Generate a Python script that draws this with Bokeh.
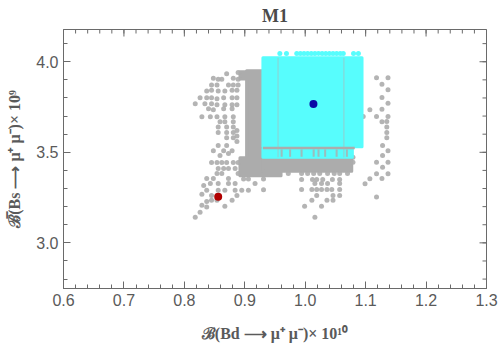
import math
from bokeh.plotting import figure
from bokeh.models import Range1d, FixedTicker, LinearAxis, PrintfTickFormatter
from bokeh.embed import file_html
from bokeh.resources import INLINE

# ---------------- data ----------------
x_major = [0.6, 0.7, 0.8, 0.9, 1.0, 1.1, 1.2, 1.3]
x_minor = [round(0.6 + 0.02 * i, 2) for i in range(36)]
y_major = [3.0, 3.5, 4.0]
y_minor = [round(2.8 + 0.1 * i, 1) for i in range(14)]

# scattered grey points (upper left)
gray_ul_x = [0.870, 0.889, 0.848, 0.856, 0.862, 0.881, 0.889, 0.845, 0.854, 0.873, 0.881, 0.889,
             0.837, 0.845, 0.856, 0.867, 0.879, 0.887, 0.826, 0.837, 0.845, 0.854, 0.865, 0.879, 0.887,
             0.818, 0.834, 0.845, 0.854, 0.867, 0.879, 0.887, 0.840, 0.848, 0.865, 0.879,
             0.829, 0.843, 0.854, 0.867, 0.881, 0.859, 0.867, 0.881,
             0.856, 0.856, 0.870, 0.870, 0.870, 0.881, 0.881, 0.881, 0.887, 0.887, 0.887]
gray_ul_y = [3.934, 3.940, 3.909, 3.903, 3.903, 3.909, 3.903, 3.872, 3.872, 3.872, 3.872, 3.872,
             3.839, 3.843, 3.839, 3.839, 3.843, 3.843, 3.801, 3.801, 3.801, 3.795, 3.801, 3.801, 3.801,
             3.768, 3.768, 3.768, 3.762, 3.762, 3.762, 3.762, 3.740, 3.735, 3.740, 3.740,
             3.696, 3.696, 3.696, 3.696, 3.696, 3.669, 3.669, 3.669,
             3.64, 3.61, 3.64, 3.61, 3.58, 3.64, 3.61, 3.58, 3.62, 3.59, 3.56]

# scattered grey points (lower left)
gray_ll_x = [0.856, 0.870, 0.848, 0.865, 0.879, 0.859, 0.873,
             0.845, 0.854, 0.862, 0.870, 0.881, 0.889,
             0.856, 0.865, 0.873, 0.884, 0.854, 0.862, 0.889,
             0.837, 0.848, 0.873, 0.898, 0.906, 0.931,
             0.843, 0.856, 0.873, 0.884, 0.917,
             0.832, 0.837, 0.856, 0.867, 0.884, 0.895, 0.906, 0.931,
             0.829, 0.845, 0.887, 0.837, 0.845, 0.854, 0.879,
             0.829, 0.837, 0.867, 0.826, 0.818]
gray_ll_y = [3.537, 3.537, 3.509, 3.509, 3.509, 3.482, 3.493,
             3.443, 3.443, 3.443, 3.443, 3.443, 3.443,
             3.410, 3.410, 3.410, 3.410, 3.383, 3.383, 3.383,
             3.356, 3.356, 3.356, 3.352, 3.352, 3.352,
             3.328, 3.328, 3.328, 3.328, 3.328,
             3.317, 3.290, 3.290, 3.290, 3.290, 3.290, 3.290, 3.293,
             3.268, 3.262, 3.262, 3.229, 3.235, 3.235, 3.235,
             3.207, 3.198, 3.202, 3.169, 3.141]

# scattered grey points (lower right)
gray_lr_x = [0.972, 0.994, 1.004, 1.014, 1.024, 1.037, 1.048, 1.057, 1.070,
             0.994, 1.012, 1.019, 1.029, 1.045, 1.057,
             1.016, 1.027, 1.037, 1.057,
             0.994, 1.011, 1.019, 1.027, 1.036, 1.044, 1.057,
             1.019, 1.046, 1.057, 1.011, 1.036, 1.046,
             0.999, 1.027, 1.016, 1.079, 1.079, 1.080, 1.080]
gray_lr_y = [3.383, 3.383, 3.383, 3.383, 3.383, 3.383, 3.383, 3.383, 3.383,
             3.350, 3.350, 3.350, 3.350, 3.350, 3.350,
             3.328, 3.328, 3.328, 3.328,
             3.295, 3.295, 3.295, 3.295, 3.295, 3.295, 3.295,
             3.262, 3.262, 3.262, 3.235, 3.235, 3.235,
             3.202, 3.202, 3.141, 3.473, 3.445, 3.58, 3.55]

# scattered grey points (right)
gray_r_x = [1.118, 1.099, 1.107, 1.118, 1.118,
            1.135, 1.135, 1.135, 1.135, 1.128, 1.137, 1.128, 1.137, 1.128, 1.137, 1.127,
            1.118, 1.137, 1.127, 1.137, 1.127, 1.137, 1.107, 1.127, 1.096, 1.118, 1.137, 1.127]
gray_r_y = [3.445, 3.326, 3.354, 3.381, 3.253,
            3.67, 3.64, 3.61, 3.58, 3.537, 3.509, 3.482, 3.445, 3.418, 3.381, 3.356,
            3.912, 3.912, 3.876, 3.845, 3.802, 3.771, 3.735, 3.738, 3.698, 3.698, 3.698, 3.669]

# densely filled grey regions
gray_blk_left = [0.903, 0.892, 0.892, 0.930]
gray_blk_right = [0.931, 0.931, 0.960, 1.077]
gray_blk_top = [3.95, 3.945, 3.47, 3.47]
gray_blk_bottom = [3.40, 3.905, 3.37, 3.395]

# densely filled cyan regions
cyan_blk_left = [0.930, 0.930]
cyan_blk_right = [1.094, 1.078]
cyan_blk_top = [4.022, 3.518]
cyan_blk_bottom = [3.530, 3.472]

cyan_top_x = [0.958, 0.969, 0.986, 0.992, 0.998, 1.004, 1.010, 1.016, 1.022, 1.028, 1.034,
              1.040, 1.046, 1.052, 1.058, 1.063, 1.080, 1.088]
cyan_top_y = [4.045] * 18

# grey streaks over the cyan region
strip_x0, strip_x1, strip_y = [0.930], [1.082], [3.524]
vline_x = [0.955, 1.064]
vline_y0, vline_y1 = [3.472, 3.472], [4.022, 4.022]
tick_x = [0.961, 0.975, 0.994, 1.014, 1.022, 1.033, 1.052, 1.069]
tick_y0, tick_y1 = [3.476] * 8, [3.516] * 8

best_x, best_y = [1.0136], [3.766]
sm_x, sm_y = [0.856], [3.255]

X0, X1 = 0.6, 1.3
Y0, Y1 = 2.748, 4.178

# ---------------- plot ----------------
FRAME = "#6a6a6a"
LABEL = "#5a5a5a"
GRAY = "#acacac"
CYAN = "#57fdfd"

p = figure(width=500, height=349, output_backend="svg", toolbar_location=None,
           x_range=Range1d(X0, X1), y_range=Range1d(Y0, Y1),
           x_axis_location=None, y_axis_location=None,
           min_border_left=63, min_border_right=14, min_border_top=28, min_border_bottom=61)
p.grid.visible = False
p.outline_line_color = FRAME
p.outline_line_width = 1
p.background_fill_color = "white"
p.border_fill_color = "white"

p.title.text = "M1"
p.title.align = "center"
p.title.text_font = "Liberation Serif"
p.title.text_font_size = "18px"
p.title.text_font_style = "bold"
p.title.text_color = "#4a4a4a"
p.title.standoff = 7
p.title.offset = 0


def mk_axis(ticks, minor, label, lab_standoff):
    ax = LinearAxis(ticker=FixedTicker(ticks=ticks, minor_ticks=minor),
                    formatter=PrintfTickFormatter(format="%.1f"))
    ax.axis_line_color = FRAME
    ax.major_tick_line_color = FRAME
    ax.minor_tick_line_color = FRAME
    ax.major_tick_in = 7
    ax.major_tick_out = 0
    ax.minor_tick_in = 4
    ax.minor_tick_out = 0
    ax.major_label_text_font = "Liberation Sans"
    ax.major_label_text_color = LABEL
    ax.major_label_text_font_size = "16px"
    ax.major_label_standoff = 5
    ax.axis_label = label
    ax.axis_label_text_font = "Liberation Serif"
    ax.axis_label_text_font_style = "bold"
    ax.axis_label_text_font_size = "16px"
    ax.axis_label_text_color = LABEL
    ax.axis_label_standoff = lab_standoff
    return ax


p.add_layout(mk_axis(x_major, x_minor, "ℬ(Bd ⟶ μ⁺ μ⁻)× 10¹⁰", 16), "below")
p.add_layout(mk_axis(y_major, y_minor, "ℬ̅(Bs ⟶ μ⁺ μ⁻)× 10⁹", 10), "left")

# mirrored frame ticks on top and right (dashes centred on the frame edge, clipped to the inside)
p.scatter(x_major, [Y1] * len(x_major), marker="dash", angle=math.pi / 2, size=14, line_color=FRAME, line_width=1)
p.scatter(x_minor, [Y1] * len(x_minor), marker="dash", angle=math.pi / 2, size=8, line_color=FRAME, line_width=1)
p.scatter([X1] * len(y_major), y_major, marker="dash", size=14, line_color=FRAME, line_width=1)
p.scatter([X1] * len(y_minor), y_minor, marker="dash", size=8, line_color=FRAME, line_width=1)

# grey layer
p.quad(left=gray_blk_left, right=gray_blk_right, top=gray_blk_top, bottom=gray_blk_bottom,
       fill_color=GRAY, line_color=GRAY, line_width=3, line_join="round")
for gx, gy in [(gray_ul_x, gray_ul_y), (gray_ll_x, gray_ll_y), (gray_lr_x, gray_lr_y), (gray_r_x, gray_r_y)]:
    p.scatter(gx, gy, size=5, fill_color=GRAY, line_color=None, alpha=0.9)

# cyan layer
p.quad(left=cyan_blk_left, right=cyan_blk_right, top=cyan_blk_top, bottom=cyan_blk_bottom,
       fill_color=CYAN, line_color=CYAN, line_width=3, line_join="round")
p.scatter(cyan_top_x, cyan_top_y, size=5, fill_color=CYAN, line_color=None)

# grey streaks
p.segment(x0=strip_x0, x1=strip_x1, y0=strip_y, y1=strip_y, line_color=GRAY, line_width=2.5)
p.segment(x0=vline_x, x1=vline_x, y0=vline_y0, y1=vline_y1, line_color="#c4a9a9", line_width=1.2, line_alpha=0.45)
p.segment(x0=tick_x, x1=tick_x, y0=tick_y0, y1=tick_y1, line_color=GRAY, line_width=2, line_alpha=0.8)

# highlighted points
p.scatter(best_x, best_y, size=8, fill_color="#0a0aa5", line_color=None)
p.scatter(sm_x, sm_y, size=8, fill_color="#b00000", line_color=None)

open("out.html", "w").write(file_html(p, INLINE))
